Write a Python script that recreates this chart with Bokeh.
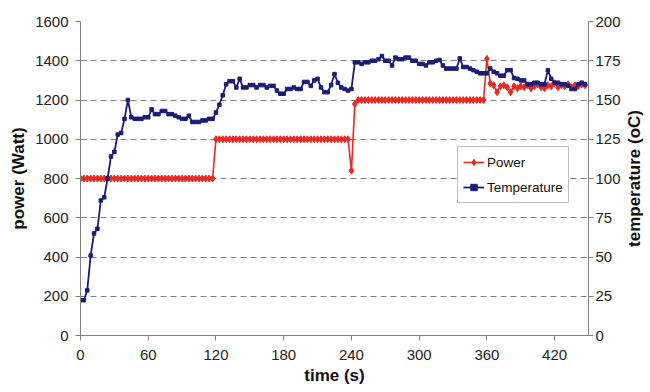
import math
from bokeh.plotting import figure
from bokeh.layouts import row
from bokeh.models import Range1d, LinearAxis, Legend, LegendItem, FixedTicker
from bokeh.embed import file_html
from bokeh.resources import INLINE

# ---- data (sampled every 3 s) ----
time_s = list(range(0, 448, 3))

temperature_c = [
    22.5, 22.5, 28.75, 51, 65, 68, 86, 88, 100, 114,
    117, 128, 129, 138, 150, 139, 138, 138, 138, 139,
    139, 144, 141, 141, 143, 143, 141, 141, 140, 139,
    138, 138, 140, 136, 136, 136, 137, 137, 138, 138,
    142, 147, 153, 160, 162, 162, 158, 163.5, 158, 158,
    159.5, 159.5, 158, 159.5, 159.5, 158, 159, 159, 156, 154,
    154, 157, 157, 158, 157, 157, 161.5, 161.5, 159, 162.5,
    163.5, 158, 155, 155, 159.5, 166.5, 161, 158, 157, 156,
    157, 174, 174, 173, 174, 174, 175, 175, 176, 178,
    175, 175, 172, 177, 176, 176, 177, 177, 175, 175,
    173, 173, 172, 174, 174, 175, 175.5, 172, 170, 170,
    170, 170, 176.5, 171, 171, 170, 169, 168, 167, 167,
    167, 170, 168, 167, 165.5, 165.5, 169, 169, 164, 163.5,
    162.5, 162.5, 160, 160, 161, 161, 160, 160, 169, 163.5,
    161, 161, 160, 160, 159, 157, 157, 160, 161, 160,
]

power_w = [
    800, 800, 800, 800, 800, 800, 800, 800, 800, 800,
    800, 800, 800, 800, 800, 800, 800, 800, 800, 800,
    800, 800, 800, 800, 800, 800, 800, 800, 800, 800,
    800, 800, 800, 800, 800, 800, 800, 800, 800, 800,
    1000, 1000, 1000, 1000, 1000, 1000, 1000, 1000, 1000, 1000,
    1000, 1000, 1000, 1000, 1000, 1000, 1000, 1000, 1000, 1000,
    1000, 1000, 1000, 1000, 1000, 1000, 1000, 1000, 1000, 1000,
    1000, 1000, 1000, 1000, 1000, 1000, 1000, 1000, 1000, 1000,
    840, 1180, 1200, 1200, 1200, 1200, 1200, 1200, 1200, 1200,
    1200, 1200, 1200, 1200, 1200, 1200, 1200, 1200, 1200, 1200,
    1200, 1200, 1200, 1200, 1200, 1200, 1200, 1200, 1200, 1200,
    1200, 1200, 1200, 1200, 1200, 1200, 1200, 1200, 1200, 1200,
    1410, 1285, 1275, 1240, 1270, 1275, 1265, 1240, 1270, 1260,
    1270, 1265, 1275, 1260, 1270, 1280, 1265, 1260, 1275, 1270,
    1285, 1265, 1275, 1270, 1280, 1265, 1275, 1270, 1280, 1275,
]

x_ticks = [0, 60, 120, 180, 240, 300, 360, 420]
power_ticks = [0, 200, 400, 600, 800, 1000, 1200, 1400, 1600]
temp_ticks = [0, 25, 50, 75, 100, 125, 150, 175, 200]

FONT = "Liberation Sans"
RED = "#ea2a22"
BLUE = "#1c1c74"
GRAY = "#808080"

H = 390
TOP = 21
BOTTOM = 55

p = figure(width=623, height=H,
           x_range=Range1d(0, 450), y_range=Range1d(0, 1600),
           output_backend="svg", toolbar_location=None,
           min_border_left=80, min_border_right=33,
           min_border_top=TOP, min_border_bottom=BOTTOM)
p.extra_y_ranges = {"temp": Range1d(0, 200)}
p.outline_line_color = None
p.background_fill_color = "white"
p.border_fill_color = "white"

p.xgrid.visible = False
p.ygrid.ticker = FixedTicker(ticks=power_ticks)
p.ygrid.grid_line_color = GRAY
p.ygrid.grid_line_dash = "6 4"
p.ygrid.grid_line_width = 1

p.xaxis.ticker = FixedTicker(ticks=x_ticks)
p.yaxis.ticker = FixedTicker(ticks=power_ticks)
p.xaxis.axis_label = "time (s)"
p.yaxis.axis_label = "power (Watt)"

right = LinearAxis(y_range_name="temp", ticker=FixedTicker(ticks=temp_ticks))
p.add_layout(right, "right")

for ax in [p.xaxis[0], p.yaxis[0], right]:
    ax.axis_line_color = GRAY
    ax.major_tick_line_color = GRAY
    ax.minor_tick_line_color = None
    ax.major_tick_in = 0
    ax.major_tick_out = 5
    ax.major_label_text_font = FONT
    ax.major_label_text_font_size = "15px"
    ax.major_label_text_color = "#222222"
    ax.axis_label_text_font = FONT
    ax.axis_label_text_font_size = "17px"
    ax.axis_label_text_font_style = "bold"
    ax.axis_label_text_color = "#111111"

p.yaxis[0].major_label_standoff = 7
p.yaxis[0].axis_label_standoff = 4
p.xaxis[0].major_label_standoff = 9
p.xaxis[0].axis_label_standoff = 3
right.major_label_standoff = 2

# series
pl = p.line(time_s, power_w, line_color=RED, line_width=1.6)
ps = p.scatter(time_s, power_w, marker="diamond", size=7, fill_color=RED, line_color=RED)
tl = p.line(time_s, temperature_c, line_color=BLUE, line_width=1.8, y_range_name="temp")
ts = p.scatter(time_s, temperature_c, marker="square", size=3.5, fill_color=BLUE,
               line_color=BLUE, y_range_name="temp")

legend = Legend(items=[LegendItem(label="Power", renderers=[pl, ps]),
                       LegendItem(label="Temperature", renderers=[tl, ts])],
                location=(377, 132))
legend.margin = 0
legend.padding = 5
legend.spacing = 5
legend.label_height = 20
legend.glyph_height = 16
legend.glyph_width = 21
legend.label_standoff = 3
legend.label_text_font = FONT
legend.label_text_font_size = "13.5px"
legend.label_text_color = "#111111"
legend.border_line_color = GRAY
legend.border_line_width = 1
legend.background_fill_color = "white"
legend.background_fill_alpha = 1
p.add_layout(legend, "center")

# narrow companion figure carrying the right-hand axis title (reads bottom-to-top)
q = figure(width=20, height=H, x_range=Range1d(0, 1), y_range=Range1d(0, 1),
           output_backend="svg", toolbar_location=None,
           min_border_left=0, min_border_right=0,
           min_border_top=TOP, min_border_bottom=BOTTOM)
q.outline_line_color = None
q.grid.visible = False
q.xaxis.visible = False
q.background_fill_color = "white"
q.border_fill_color = "white"
qa = q.yaxis[0]
qa.ticker = FixedTicker(ticks=[])
qa.axis_line_color = None
qa.major_tick_line_color = None
qa.minor_tick_line_color = None
qa.major_tick_out = 0
qa.major_label_standoff = 0
qa.axis_label_standoff = 0
qa.axis_label = "temperature (oC)"
qa.axis_label_text_font = FONT
qa.axis_label_text_font_size = "17px"
qa.axis_label_text_font_style = "bold"
qa.axis_label_text_color = "#111111"

layout = row(p, q, spacing=0)
open("out.html", "w").write(file_html(layout, INLINE))
